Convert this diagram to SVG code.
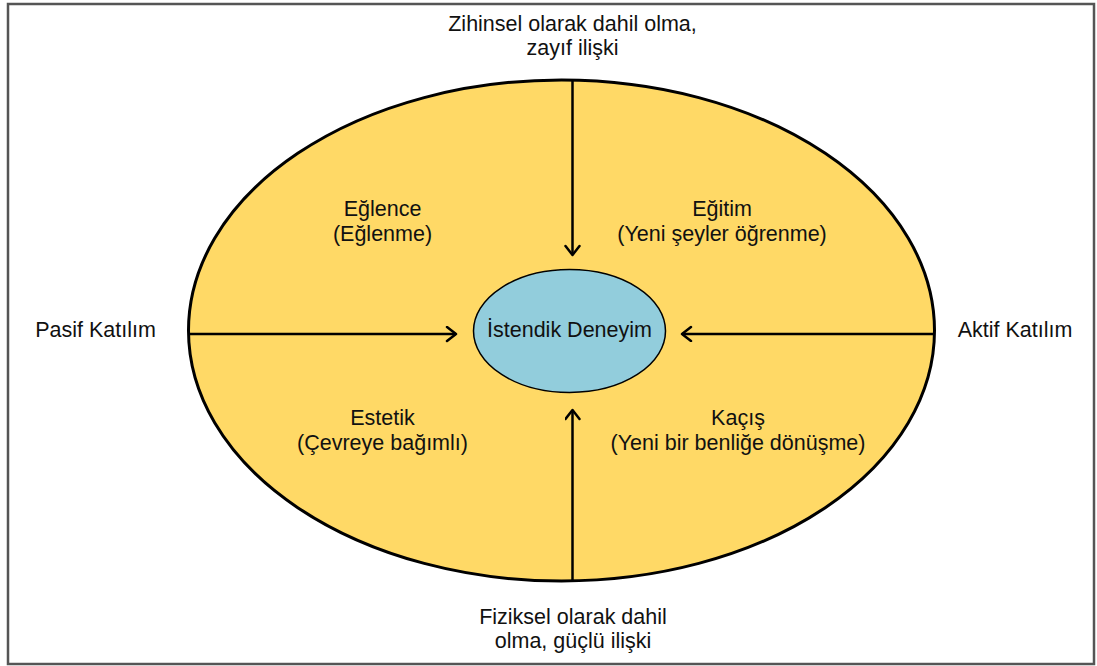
<svg xmlns="http://www.w3.org/2000/svg" width="1097" height="666" viewBox="0 0 1097 666">
  <style>
    text { font-family: "Liberation Sans", Arial, sans-serif; font-size: 21.5px; fill: #111; text-anchor: middle; }
    .conn { stroke: #000; stroke-width: 2.5; fill: none; }
  </style>
  <defs>
    <marker id="open-arrow" markerUnits="userSpaceOnUse" markerWidth="14" markerHeight="18" refX="11" refY="8" orient="auto">
      <path d="M2,1 L11,8 L2,15" fill="none" stroke="#000" stroke-width="2.5" stroke-linecap="round" stroke-linejoin="round"/>
    </marker>
  </defs>

  <rect x="0" y="0" width="1097" height="666" fill="#fff"/>
  <rect id="frame" x="8" y="4" width="1086" height="660" fill="none" stroke="#555" stroke-width="2.5"/>

  <g id="outer-field">
    <ellipse cx="561.5" cy="330.5" rx="373" ry="250.5" fill="#FFD966" stroke="#000" stroke-width="3"/>
  </g>

  <g id="connectors">
    <line class="conn" x1="572.5" y1="80" x2="572.5" y2="255" marker-end="url(#open-arrow)"/>
    <line class="conn" x1="572.5" y1="581" x2="572.5" y2="410" marker-end="url(#open-arrow)"/>
    <line class="conn" x1="190" y1="334" x2="456" y2="334" marker-end="url(#open-arrow)"/>
    <line class="conn" x1="934" y1="334" x2="682" y2="334" marker-end="url(#open-arrow)"/>
  </g>

  <g id="core">
    <ellipse cx="569.5" cy="331" rx="96" ry="61.5" fill="#92CDDC" stroke="#000" stroke-width="1.5"/>
    <text x="569.5" y="337">İstendik Deneyim</text>
  </g>

  <g id="entertainment">
    <text x="382.5" y="216">Eğlence</text>
    <text x="382.5" y="241">(Eğlenme)</text>
  </g>
  <g id="education">
    <text x="722" y="216">Eğitim</text>
    <text x="722" y="241">(Yeni şeyler öğrenme)</text>
  </g>
  <g id="esthetic">
    <text x="382.5" y="425">Estetik</text>
    <text x="382.5" y="450">(Çevreye bağımlı)</text>
  </g>
  <g id="escapism">
    <text x="738" y="425">Kaçış</text>
    <text x="738" y="450">(Yeni bir benliğe dönüşme)</text>
  </g>

  <g id="label-top">
    <text x="572.5" y="31">Zihinsel olarak dahil olma,</text>
    <text x="572.5" y="55">zayıf ilişki</text>
  </g>
  <g id="label-bottom">
    <text x="573" y="624">Fiziksel olarak dahil</text>
    <text x="573" y="648">olma, güçlü ilişki</text>
  </g>
  <g id="label-left">
    <text x="95.5" y="337">Pasif Katılım</text>
  </g>
  <g id="label-right">
    <text x="1015" y="337">Aktif Katılım</text>
  </g>
</svg>
